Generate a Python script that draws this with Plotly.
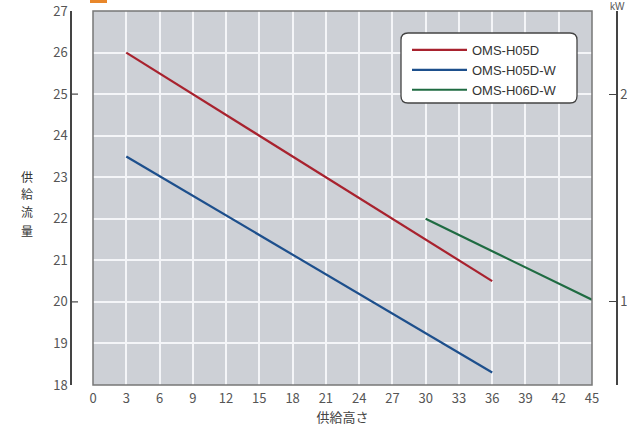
import plotly.graph_objects as go

# ---- data ----
series_names = ["OMS-H05D", "OMS-H05D-W", "OMS-H06D-W"]
h05d_x = [3, 36]
h05d_y = [26.0, 20.5]
h05dw_x = [3, 36]
h05dw_y = [23.5, 18.3]
h06dw_x = [30, 45]
h06dw_y = [22.0, 20.05]
x_ticks = list(range(0, 46, 3))
y_ticks = list(range(18, 28))
kw_ticks = [1, 2]
y_title_chars = ["供", "給", "流", "量"]

colors = ["#a8222e", "#1d4f8c", "#1f6b42"]

W, H = 627, 430
ML, MR, MT, MB = 71, 10, 11, 45
PW = W - ML - MR
PH = H - MT - MB


def px(x):
    return (x - ML) / PW


def py(y):
    return (H - MB - y) / PH


fig = go.Figure()
for name, xs, ys, c in zip(series_names, [h05d_x, h05dw_x, h06dw_x],
                           [h05d_y, h05dw_y, h06dw_y], colors):
    fig.add_trace(go.Scatter(x=xs, y=ys, mode="lines", name=name,
                             line=dict(color=c, width=2.2)))

# invisible trace to activate right kW axis
fig.add_trace(go.Scatter(x=[0], y=[1], yaxis="y2", mode="markers",
                         marker=dict(opacity=0), showlegend=False,
                         hoverinfo="skip"))

tickfont = dict(family="Noto Sans CJK JP", size=13, color="#555")
grid = "#f4f5f8"

fig.update_layout(
    width=W, height=H,
    margin=dict(l=ML, r=MR, t=MT, b=MB, autoexpand=False),
    paper_bgcolor="white",
    plot_bgcolor="#cdd0d6",
    xaxis=dict(domain=[px(93), px(592)], range=[0, 45], tickvals=x_ticks,
               showgrid=True, gridcolor=grid, gridwidth=1.8,
               zeroline=False, showline=False, ticks="", tickfont=tickfont,
               automargin=False, ticklabelstandoff=4,
               title=dict(text="供給高さ", standoff=6,
                          font=dict(family="Noto Sans CJK JP", size=13,
                                    color="#444"))),
    yaxis=dict(anchor="free", position=0, range=[18, 27], tickvals=y_ticks,
               showgrid=True, gridcolor=grid, gridwidth=1.8,
               zeroline=False, showline=True, linecolor="#444", linewidth=1.5,
               ticks="", tickfont=tickfont, automargin=False),
    yaxis2=dict(anchor="free", overlaying="y", side="right", position=1,
                range=[0.6, 2.4], tickvals=kw_ticks, showgrid=False,
                zeroline=False, showline=True, linecolor="#444", linewidth=1.5,
                ticks="inside", ticklen=7, tickcolor="#444", tickwidth=1.2,
                tickfont=tickfont, automargin=False),
    legend=dict(x=px(407), y=py(35), xanchor="left", yanchor="top",
                bgcolor="rgba(0,0,0,0)", itemwidth=55,
                font=dict(family="Liberation Sans", size=13, color="#333"),
                tracegroupgap=0),
    showlegend=True,
)

# left-axis tick marks at 20 and 25 (pointing right)
for v in [20, 25]:
    fig.add_shape(type="line", xref="paper", yref="y", x0=0, x1=px(78),
                  y0=v, y1=v, line=dict(color="#444", width=1.2))

# plot border
fig.add_shape(type="rect", xref="x domain", yref="y domain", x0=0, x1=1,
              y0=0, y1=1, line=dict(color="#777", width=1.5), layer="above")

# rounded legend box
x0, x1, y0, y1, r = 401, 577, 33, 103, 7
rx = r / PW
ry = r / PH
X0, X1, Y0, Y1 = px(x0), px(x1), py(y1), py(y0)
path = (f"M{X0+rx},{Y0} L{X1-rx},{Y0} Q{X1},{Y0} {X1},{Y0+ry} "
        f"L{X1},{Y1-ry} Q{X1},{Y1} {X1-rx},{Y1} L{X0+rx},{Y1} "
        f"Q{X0},{Y1} {X0},{Y1-ry} L{X0},{Y0+ry} Q{X0},{Y0} {X0+rx},{Y0} Z")
fig.add_shape(type="path", xref="paper", yref="paper", path=path,
              fillcolor="white", line=dict(color="#444", width=1.3),
              layer="above")

# y-axis title (vertical stacked, upright characters)
for i, ch in enumerate(y_title_chars):
    fig.add_annotation(xref="paper", yref="paper", x=px(20),
                       y=py(176 + i * 18), text=ch, showarrow=False,
                       font=dict(family="Noto Sans CJK JP", size=12,
                                 color="#333"), borderpad=0)

# kW unit label
fig.add_annotation(xref="paper", yref="paper", x=px(617), y=py(0),
                   yanchor="top", xanchor="center", text="kW",
                   showarrow=False, borderpad=0,
                   font=dict(family="Liberation Sans", size=10, color="#555"))

# orange title marker sliver
fig.add_shape(type="rect", xref="paper", yref="paper", x0=px(90), x1=px(107),
              y0=py(3), y1=py(-2), fillcolor="#e8872a", line=dict(width=0))

fig.write_html("out.html", config={"displayModeBar": False},
               post_script="document.body.style.margin='0';"
                           "document.body.style.padding='0';")
